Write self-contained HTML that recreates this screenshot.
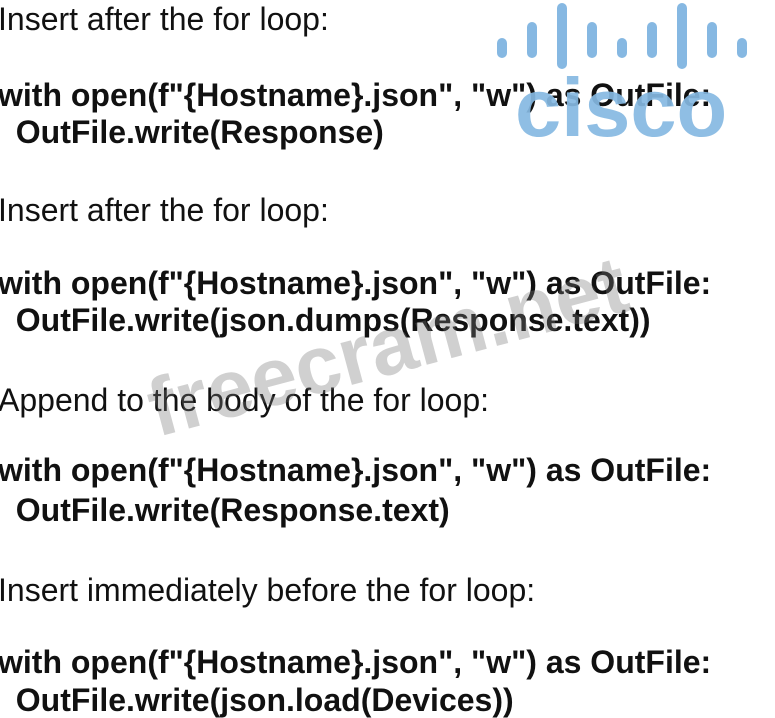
<!DOCTYPE html>
<html><head><style>
body{margin:0;width:775px;height:712px;background:#fff;position:relative;overflow:hidden;font-family:"Liberation Sans",Arial,sans-serif;color:#111}
.t{position:absolute;left:-2px;white-space:nowrap;font-size:32px;line-height:30px}
.b{font-weight:bold;font-size:32px}
.bar{position:absolute;width:10px;background:#86b8e2;border-radius:5px}
</style></head><body>
<div class="bar" style="left:497px;top:38px;height:20px"></div>
<div class="bar" style="left:527px;top:22px;height:36px"></div>
<div class="bar" style="left:557px;top:3px;height:66px"></div>
<div class="bar" style="left:587px;top:22px;height:36px"></div>
<div class="bar" style="left:617px;top:38px;height:20px"></div>
<div class="bar" style="left:647px;top:22px;height:36px"></div>
<div class="bar" style="left:677px;top:3px;height:66px"></div>
<div class="bar" style="left:707px;top:22px;height:36px"></div>
<div class="bar" style="left:737px;top:38px;height:20px"></div>
<div class="t" style="top:4px">Insert after the for loop:</div>
<div class="t b" style="top:80px">with open(f"{Hostname}.json", "w") as OutFile:</div>
<div class="t b" style="top:117px">&nbsp;&nbsp;OutFile.write(Response)</div>
<div class="t" style="top:195px">Insert after the for loop:</div>
<div class="t b" style="top:268px">with open(f"{Hostname}.json", "w") as OutFile:</div>
<div class="t b" style="top:305px">&nbsp;&nbsp;OutFile.write(json.dumps(Response.text))</div>
<div class="t" style="top:385px">Append to the body of the for loop:</div>
<div class="t b" style="top:455px">with open(f"{Hostname}.json", "w") as OutFile:</div>
<div class="t b" style="top:495px">&nbsp;&nbsp;OutFile.write(Response.text)</div>
<div class="t" style="top:575px">Insert immediately before the for loop:</div>
<div class="t b" style="top:647px">with open(f"{Hostname}.json", "w") as OutFile:</div>
<div class="t b" style="top:685px">&nbsp;&nbsp;OutFile.write(json.load(Devices))</div>
<div style="position:absolute;left:515px;top:66px;font-size:83px;font-weight:bold;color:rgba(134,184,226,0.92);line-height:83px">cisco</div>
<div style="position:absolute;left:150px;top:370px;font-size:82px;font-weight:bold;color:rgba(120,120,120,0.35);transform:rotate(-15deg);transform-origin:left center;white-space:nowrap;line-height:82px">freecram.net</div>
</body></html>
